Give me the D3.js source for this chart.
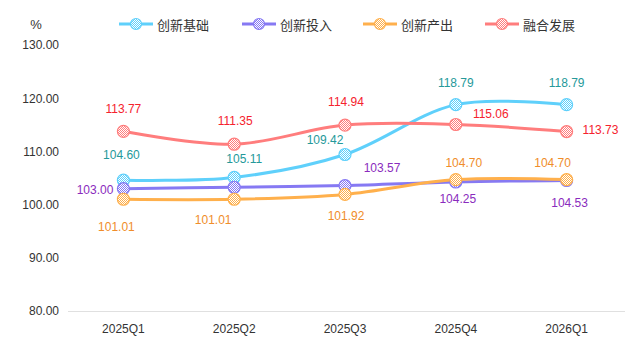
<!DOCTYPE html>
<html><head><meta charset="utf-8">
<script src="https://cdn.jsdelivr.net/npm/d3@7/dist/d3.min.js"></script>
<style>html,body{margin:0;padding:0;background:#fff;}svg{display:block;}</style>
</head><body>
<svg id="chart" width="638" height="344"></svg>
<script>
// ---- data ----
const categories = ["2025Q1","2025Q2","2025Q3","2025Q4","2026Q1"];
const seriesNames = ["创新基础","创新投入","创新产出","融合发展"];
const jichu   = [104.60, 105.11, 109.42, 118.79, 118.79];
const touru   = [103.00, 103.26, 103.57, 104.25, 104.53];
const chanchu = [101.01, 101.01, 101.92, 104.70, 104.70];
const ronghe  = [113.77, 111.35, 114.94, 115.06, 113.73];
const showLabel = [
  [true,true,true,true,true],
  [true,false,true,true,true],
  [true,true,true,true,true],
  [true,true,true,true,true]
];
const yTicks = [80, 90, 100, 110, 120, 130];
const yUnit = "%";

// ---- styles / label placement ----
const lineColors  = ["#5fd0fb", "#8679f3", "#ffb04c", "#ff7d7d"];
const labelColors = ["#25999a", "#8a2bbd", "#f08d2a", "#f5222d"];
// [dx, dy, anchor]
const labelPlace = [
  [[-2,-25,"middle"],[10,-18,"middle"],[-20,-14,"middle"],[0,-22,"middle"],[0,-22,"middle"]],
  [[-10,1,"end"],[0,0,"middle"],[37,-18,"middle"],[2,17,"middle"],[3,22,"middle"]],
  [[-7,28,"middle"],[-21,21,"middle"],[1,22,"middle"],[8,-17,"middle"],[-14,-17,"middle"]],
  [[0,-22,"middle"],[1,-23,"middle"],[1,-23,"middle"],[35,-10,"middle"],[16,-2,"start"]]
];
const allSeries = [jichu, touru, chanchu, ronghe];

const svg = d3.select("#chart");
const numFont = "'Liberation Sans', Arial, sans-serif";
const cjkFont = "'Noto Sans CJK SC', 'Microsoft YaHei', sans-serif";

const x = d3.scaleBand().domain(categories).range([68, 622]);
const y = d3.scaleLinear().domain([80, 130]).range([311, 45]);

// patterns
const defs = svg.append("defs");
lineColors.forEach((c, i) => {
  const p = defs.append("pattern").attr("id", "pat" + i)
    .attr("patternUnits", "userSpaceOnUse").attr("width", 2).attr("height", 2);
  p.append("rect").attr("width", 2).attr("height", 2).attr("fill", "#fff");
  p.append("rect").attr("width", 1).attr("height", 1).attr("fill", c);
  p.append("rect").attr("x", 1).attr("y", 1).attr("width", 1).attr("height", 1).attr("fill", c);
});

// custom smoothing curve (bezier with neighbour-based control points)
function SmoothCurve(context) { this._context = context; }
SmoothCurve.prototype = {
  areaStart() {}, areaEnd() {},
  lineStart() { this._pts = []; },
  point(px, py) { this._pts.push([+px, +py]); },
  lineEnd() {
    const p = this._pts, c = this._context, s = 0.33, n = p.length;
    if (!n) return;
    const before = [], after = [];
    for (let i = 0; i < n; i++) {
      if (i === 0 || i === n - 1) { before.push(p[i]); after.push(p[i]); continue; }
      const prev = p[i - 1], next = p[i + 1];
      const vx = (next[0] - prev[0]) * s, vy = (next[1] - prev[1]) * s;
      let d0 = Math.hypot(p[i][0] - prev[0], p[i][1] - prev[1]);
      let d1 = Math.hypot(p[i][0] - next[0], p[i][1] - next[1]);
      const sum = d0 + d1; if (sum) { d0 /= sum; d1 /= sum; }
      before.push([p[i][0] - vx * d0, p[i][1] - vy * d0]);
      after.push([p[i][0] + vx * d1, p[i][1] + vy * d1]);
    }
    c.moveTo(p[0][0], p[0][1]);
    for (let i = 0; i < n - 1; i++) {
      c.bezierCurveTo(after[i][0], after[i][1], before[i + 1][0], before[i + 1][1], p[i + 1][0], p[i + 1][1]);
    }
  }
};
const smooth = ctx => new SmoothCurve(ctx);

// y axis labels
const yAxis = svg.append("g").attr("transform", "translate(59,0)")
  .call(d3.axisLeft(y).tickValues(yTicks).tickFormat(d3.format(".2f")).tickSize(0).tickPadding(0));
yAxis.select(".domain").remove();
yAxis.selectAll("text").attr("font-family", numFont).attr("font-size", 12).attr("fill", "#333");

svg.append("text").attr("x", 36).attr("y", 24).attr("text-anchor", "middle")
  .attr("dominant-baseline", "central").attr("font-family", numFont).attr("font-size", 13)
  .attr("fill", "#333").text(yUnit);

// x axis
const xAxis = svg.append("g").attr("transform", "translate(0,311)")
  .call(d3.axisBottom(x).tickSize(0).tickPadding(13));
xAxis.select(".domain").attr("stroke", "#e0e0e0").attr("stroke-width", 1)
  .attr("d", "M68,0.5H625");
xAxis.selectAll("text").attr("font-family", numFont).attr("font-size", 12).attr("fill", "#333");

// lines
const cx = i => x(categories[i]) + x.bandwidth() / 2;
const line = d3.line().x((d, i) => cx(i)).y(d => y(d)).curve(smooth);

allSeries.forEach((vals, si) => {
  svg.append("path").attr("d", line(vals)).attr("fill", "none")
    .attr("stroke", lineColors[si]).attr("stroke-width", 3).attr("stroke-linecap", "round");
});
allSeries.forEach((vals, si) => {
  svg.append("g").selectAll("circle").data(vals).join("circle")
    .attr("cx", (d, i) => cx(i)).attr("cy", d => y(d)).attr("r", 6)
    .attr("fill", "url(#pat" + si + ")").attr("stroke", lineColors[si]).attr("stroke-width", 1.2);
});
// labels
allSeries.forEach((vals, si) => {
  const items = vals.map((v, i) => ({ v, i })).filter(o => showLabel[si][o.i]);
  svg.append("g").selectAll("text").data(items).join("text")
    .attr("x", o => cx(o.i) + labelPlace[si][o.i][0])
    .attr("y", o => y(o.v) + labelPlace[si][o.i][1])
    .attr("text-anchor", o => labelPlace[si][o.i][2])
    .attr("dominant-baseline", "central")
    .attr("font-family", numFont).attr("font-size", 12)
    .attr("fill", labelColors[si]).text(o => o.v.toFixed(2));
});

// legend
const legendX = [119, 242, 363, 485];
seriesNames.forEach((name, i) => {
  const g = svg.append("g").attr("transform", `translate(${legendX[i]},24)`);
  g.append("line").attr("x1", 0).attr("x2", 34).attr("stroke", lineColors[i]).attr("stroke-width", 3);
  g.append("circle").attr("cx", 17).attr("r", 5.5).attr("fill", "url(#pat" + i + ")")
    .attr("stroke", lineColors[i]).attr("stroke-width", 1.2);
  g.append("text").attr("x", 38).attr("dominant-baseline", "central")
    .attr("font-family", cjkFont).attr("font-size", 13).attr("fill", "#333").text(name);
});
</script>
</body></html>
